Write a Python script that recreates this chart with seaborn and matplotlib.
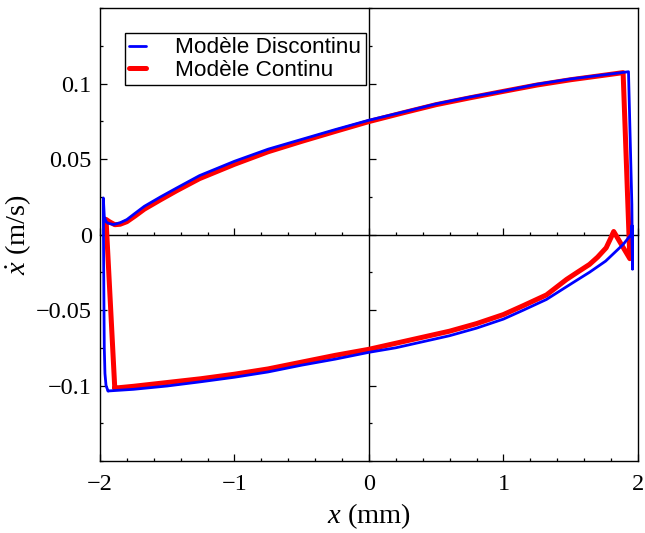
#%% Portrait de phase - modele discontinu vs continu

import matplotlib
matplotlib.use('Agg')
import matplotlib.pyplot as plt
from matplotlib.ticker import MultipleLocator, FixedLocator, FuncFormatter
import seaborn as sns

#%% Donnees (x en mm, vitesse en m/s)

# modele discontinu : cote gauche, branche haute, chute a droite, branche basse
x_disc = [-1.94, -1.955, -1.963, -1.968, -1.971, -1.974, -1.975, -1.968, -1.955, -1.94,
          -1.9, -1.85, -1.80, -1.74, -1.67, -1.55, -1.43, -1.26, -1.0, -0.75, -0.5,
          -0.25, 0.0, 0.25, 0.5, 0.75, 1.0, 1.25, 1.5, 1.75, 1.93,
          1.955, 1.96, 1.956, 1.952, 1.95,
          1.89, 1.76, 1.64, 1.52, 1.32, 1.15, 1.0, 0.8, 0.6, 0.4, 0.2, 0.0, -0.25,
          -0.5, -0.75, -1.0, -1.25, -1.5, -1.75, -1.94]
v_disc = [-0.1036, -0.100, -0.092, -0.075, -0.040, 0.0, 0.0242, 0.012, 0.0085, 0.0075,
          0.0066, 0.0078, 0.0099, 0.014, 0.0187, 0.0249, 0.0308, 0.039, 0.0485, 0.0565, 0.063,
          0.0695, 0.0757, 0.081, 0.0865, 0.091, 0.095, 0.0995, 0.103, 0.1058, 0.1078,
          0.02, -0.023, 0.006, -0.001, 0.0,
          -0.0066, -0.0176, -0.025, -0.0317, -0.043, -0.050, -0.056, -0.062, -0.067, -0.071,
          -0.075, -0.078, -0.0825, -0.0865, -0.091, -0.0945, -0.0975, -0.1003, -0.1025, -0.1036]

# modele continu
x_cont = [-1.89, -1.955, -1.93, -1.89, -1.85, -1.80, -1.74, -1.67, -1.55, -1.43, -1.26,
          -1.0, -0.75, -0.5, -0.25, 0.0, 0.25, 0.5, 0.75, 1.0, 1.25, 1.5, 1.75, 1.89,
          1.94, 1.88, 1.82, 1.80, 1.764, 1.70, 1.64, 1.55, 1.47, 1.32, 1.15, 1.0, 0.8,
          0.6, 0.4, 0.2, 0.0, -0.25, -0.5, -0.75, -1.0, -1.25, -1.5, -1.75, -1.89]
v_cont = [-0.1017, 0.0100, 0.0085, 0.0065, 0.0068, 0.0085, 0.0122, 0.0168, 0.023, 0.029,
          0.037, 0.0465, 0.0548, 0.0617, 0.0683, 0.0748, 0.0805, 0.086, 0.0905, 0.0948,
          0.099, 0.1025, 0.1055, 0.1072,
          -0.016, -0.007, 0.002, -0.002, -0.0088, -0.015, -0.0198, -0.025, -0.0297, -0.040,
          -0.047, -0.053, -0.059, -0.064, -0.068, -0.072, -0.076, -0.080, -0.0845, -0.089,
          -0.0925, -0.0955, -0.098, -0.1005, -0.1017]

labels = ['Modèle Discontinu', 'Modèle Continu']
colors = ['#0000ff', '#ff0000']
y_ticks = [-0.1, -0.05, 0, 0.05, 0.1]

#%% Style

sns.set_theme(style='white')
plt.rcParams['font.family'] = ['Liberation Serif', 'DejaVu Serif']
plt.rcParams['mathtext.fontset'] = 'custom'
plt.rcParams['mathtext.rm'] = 'Liberation Serif'
plt.rcParams['mathtext.it'] = 'Liberation Serif:italic'
plt.rcParams['axes.edgecolor'] = 'black'
plt.rcParams['axes.linewidth'] = 1.0

fig = plt.figure(figsize=(6.45, 5.33), dpi=100)
pos = [0.155, 0.135, 0.834, 0.850]

# axes des zeros (lignes centrales avec graduations)
ax0 = fig.add_axes(pos)
ax = fig.add_axes(pos, sharex=ax0, sharey=ax0)
ax.patch.set_visible(False)

for s in ['top', 'right']:
    ax0.spines[s].set_visible(False)
ax0.spines['left'].set_position('zero')
ax0.spines['bottom'].set_position('zero')

#%% Trace

sns.lineplot(x=x_cont, y=v_cont, sort=False, estimator=None, color=colors[1],
             lw=3.6, label=labels[1], ax=ax)
sns.lineplot(x=x_disc, y=v_disc, sort=False, estimator=None, color=colors[0],
             lw=2.0, label=labels[0], ax=ax)

ax.set_xlim(-2, 2)
ax.set_ylim(-0.15, 0.15)

for a in [ax, ax0]:
    a.xaxis.set_major_locator(MultipleLocator(1))
    a.xaxis.set_minor_locator(MultipleLocator(0.2))
    a.yaxis.set_major_locator(FixedLocator(y_ticks))
    a.yaxis.set_minor_locator(MultipleLocator(0.025))
    a.tick_params(which='both', direction='in', left=True, bottom=True,
                  top=False, right=False, color='black', width=0.9)
    a.tick_params(which='major', length=5)
    a.tick_params(which='minor', length=2.5)

ax0.tick_params(labelleft=False, labelbottom=False)

fmt = FuncFormatter(lambda v, p: ('%g' % round(v, 4)).replace('-', '\u2212'))
ax.xaxis.set_major_formatter(fmt)
ax.yaxis.set_major_formatter(fmt)
ax.tick_params(labelsize=17.5, labelcolor='black')
ax.tick_params(axis='x', pad=9)
ax.tick_params(axis='y', pad=6)

ax.set_xlabel(r'$x$ (mm)', fontsize=20.5, color='black', labelpad=5)
ax.set_ylabel(r'$\dot{x}$ (m/s)', fontsize=20.5, color='black', labelpad=2)

h, l = ax.get_legend_handles_labels()
leg = ax.legend([h[1], h[0]], [l[1], l[0]], loc='upper left',
                bbox_to_anchor=(0.046, 0.945), borderaxespad=0,
                prop={'family': 'Liberation Sans', 'size': 16.2},
                frameon=True, fancybox=False, edgecolor='black', framealpha=1,
                handlelength=0.75, handletextpad=1.3, borderpad=0.2,
                labelspacing=0.05)
leg.get_frame().set_linewidth(1.0)
for t in leg.get_texts():
    t.set_color('black')

fig.savefig('out.png', dpi=100)
